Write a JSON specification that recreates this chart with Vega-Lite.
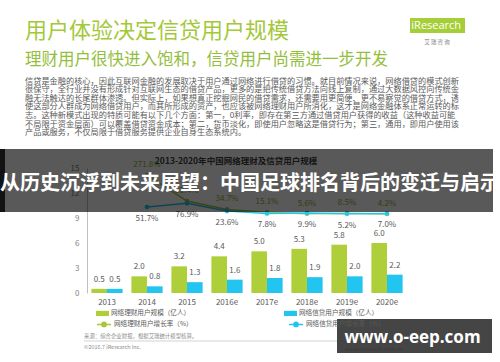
{
  "$schema": "https://vega.github.io/schema/vega-lite/v6.json",
  "width": 320,
  "height": 125,
  "autosize": {"type": "none"},
  "padding": {"left": 87, "top": 168, "right": 93, "bottom": 69},
  "background": "white",
  "config": {"font": "Noto Sans CJK SC", "view": {"stroke": null}},
  "datasets": {
    "bars": [
      {"year": "2013", "series": "网络理财用户规模（亿人）", "value": 0.5},
      {"year": "2014", "series": "网络理财用户规模（亿人）", "value": 2.0},
      {"year": "2015", "series": "网络理财用户规模（亿人）", "value": 3.2},
      {"year": "2016e", "series": "网络理财用户规模（亿人）", "value": 4.4},
      {"year": "2017e", "series": "网络理财用户规模（亿人）", "value": 5.0},
      {"year": "2018e", "series": "网络理财用户规模（亿人）", "value": 5.3},
      {"year": "2019e", "series": "网络理财用户规模（亿人）", "value": 5.8},
      {"year": "2020e", "series": "网络理财用户规模（亿人）", "value": 6.0},
      {"year": "2013", "series": "网络信贷用户规模（亿人）", "value": 0.5},
      {"year": "2014", "series": "网络信贷用户规模（亿人）", "value": 0.8},
      {"year": "2015", "series": "网络信贷用户规模（亿人）", "value": 1.3},
      {"year": "2016e", "series": "网络信贷用户规模（亿人）", "value": 1.6},
      {"year": "2017e", "series": "网络信贷用户规模（亿人）", "value": 1.8},
      {"year": "2018e", "series": "网络信贷用户规模（亿人）", "value": 1.9},
      {"year": "2019e", "series": "网络信贷用户规模（亿人）", "value": 2.0},
      {"year": "2020e", "series": "网络信贷用户规模（亿人）", "value": 2.2}
    ],
    "rates": [
      {"year": "2014", "series": "网络理财用户增长率（%）", "rate": 2.718},
      {"year": "2015", "series": "网络理财用户增长率（%）", "rate": 0.924},
      {"year": "2016e", "series": "网络理财用户增长率（%）", "rate": 0.347},
      {"year": "2017e", "series": "网络理财用户增长率（%）", "rate": 0.151},
      {"year": "2018e", "series": "网络理财用户增长率（%）", "rate": 0.056},
      {"year": "2019e", "series": "网络理财用户增长率（%）", "rate": 0.085},
      {"year": "2020e", "series": "网络理财用户增长率（%）", "rate": 0.042},
      {"year": "2014", "series": "网络信贷用户增长率（%）", "rate": 0.517},
      {"year": "2015", "series": "网络信贷用户增长率（%）", "rate": 0.769},
      {"year": "2016e", "series": "网络信贷用户增长率（%）", "rate": 0.236},
      {"year": "2017e", "series": "网络信贷用户增长率（%）", "rate": 0.078},
      {"year": "2018e", "series": "网络信贷用户增长率（%）", "rate": 0.099},
      {"year": "2019e", "series": "网络信贷用户增长率（%）", "rate": 0.052},
      {"year": "2020e", "series": "网络信贷用户增长率（%）", "rate": 0.070}
    ],
    "notes": [
      {
        "heading": "用户体验决定信贷用户规模",
        "sub": "理财用户很快进入饱和，信贷用户尚需进一步开发",
        "para": [
          "信贷是金融的核心，因此互联网金融的发展取决于用户通过网络进行借贷的习惯。就目前情况来说，网络借贷的模式创新",
          "很保守，全行业并没有形成针对互联网生态的借贷产品，更多的是把传统借贷方法向线上复制，通过大数据风控向传统金",
          "融无法触达的长尾群体渗透。但实际上，如果想真正挖掘网民的借贷需求，还需要用更简便、更不易察觉的借贷方式，诱",
          "使这部分人群成为网络借贷用户，而其所形成的资产，也应该被网络理财用户所消化，这才是网络金融体系正常运转的标",
          "志。这种新模式出现的特质可能有以下几个方面：第一，0利率，即存在第三方通过借贷用户获得的收益（这种收益可能",
          "不局限于资金层面）可以覆盖借贷资金成本；第二，货币淡化，即使用户忽略这是借贷行为；第三，通用，即用户使用该",
          "产品或服务，不仅局限于借贷服务提供企业自身生态系统内。"
        ],
        "chartTitle": "2013-2020年中国网络理财及信贷用户规模",
        "banner": "从历史沉浮到未来展望：中国足球排名背后的变迁与启示",
        "source": "来源：综合企业财报，根据艾瑞统计模型核算。",
        "copy": "©2016.7 iResearch Inc.",
        "site": "www.iresearch.com.cn",
        "logo": "iResearch",
        "logoCn": "艾   瑞   咨   询",
        "watermark": "www.o-eep.com"
      }
    ]
  },
  "layer": [
    {
      "layer": [
        {
          "data": {"name": "bars"},
          "encoding": {
            "x": {
              "field": "year", "type": "nominal", "sort": null,
              "scale": {"domain": ["2013", "2014", "2015", "2016e", "2017e", "2018e", "2019e", "2020e"], "paddingInner": 0.22, "paddingOuter": 0.11},
              "axis": {"title": null, "labelAngle": 0, "domain": false, "ticks": false, "labelPadding": 5, "labelFontSize": 8, "labelColor": "#595959"}
            },
            "xOffset": {
              "field": "series", "type": "nominal",
              "scale": {"domain": ["网络理财用户规模（亿人）", "网络信贷用户规模（亿人）"], "paddingInner": 0, "paddingOuter": 0}
            },
            "y": {
              "field": "value", "type": "quantitative",
              "scale": {"domain": [0, 15], "nice": false},
              "axis": {"title": null, "values": [0, 3, 6, 9, 12, 15], "domainColor": "#bfbfbf", "ticks": false, "grid": false, "labelPadding": 8, "labelFontSize": 8, "labelColor": "#7f7f7f"}
            }
          },
          "layer": [
            {
              "mark": {"type": "bar"},
              "encoding": {
                "fill": {
                  "field": "series", "type": "nominal",
                  "scale": {"domain": ["网络理财用户规模（亿人）", "网络信贷用户规模（亿人）"], "range": ["#AECF3A", "#22C4F0"]},
                  "legend": {"orient": "none", "legendX": 9, "legendY": 138.5, "direction": "horizontal", "title": null, "padding": 0, "symbolType": "M-1,-0.4H1V0.4H-1Z", "symbolSize": 169, "symbolStrokeWidth": 0, "labelFontSize": 6.6, "labelColor": "#595959", "columnPadding": 93, "labelOffset": 2}
                }
              }
            },
            {
              "mark": {"type": "text", "dy": -9, "fontSize": 8, "color": "#595959"},
              "encoding": {"text": {"field": "value", "type": "quantitative", "format": ".1f"}}
            }
          ]
        },
        {
          "data": {"name": "rates"},
          "encoding": {
            "x": {"field": "year", "type": "nominal", "sort": null},
            "y": {"field": "rate", "type": "quantitative", "scale": {"domain": [-5.4, 3.2], "nice": false, "zero": false}, "axis": null}
          },
          "layer": [
            {
              "mark": {"type": "line", "strokeWidth": 1.5, "point": {"filled": true, "size": 22}},
              "encoding": {
                "color": {
                  "field": "series", "type": "nominal",
                  "scale": {"domain": ["网络理财用户增长率（%）", "网络信贷用户增长率（%）"], "range": ["#A9C53B", "#22C4F0"]},
                  "legend": {"orient": "none", "legendX": 9, "legendY": 148, "direction": "horizontal", "title": null, "padding": 0, "symbolType": "M-1,0H1M-0.3,0A0.3,0.3 0 1,1 0.3,0A0.3,0.3 0 1,1 -0.3,0", "symbolSize": 196, "symbolStrokeWidth": 1.5, "labelFontSize": 6.6, "labelColor": "#595959", "columnPadding": 93, "labelOffset": 2}
                }
              }
            },
            {
              "transform": [{"filter": "datum.series === '网络理财用户增长率（%）'"}],
              "mark": {"type": "text", "dy": -10, "fontSize": 8, "color": "#8DB03A"},
              "encoding": {"text": {"field": "rate", "type": "quantitative", "format": ".1%"}}
            },
            {
              "transform": [{"filter": "datum.series === '网络信贷用户增长率（%）'"}],
              "mark": {"type": "text", "dy": 12, "fontSize": 8, "color": "#595959"},
              "encoding": {"text": {"field": "rate", "type": "quantitative", "format": ".1%"}}
            }
          ]
        }
      ],
      "resolve": {"scale": {"y": "independent"}}
    },
    {
      "data": {"name": "notes"},
      "encoding": {
        "x": {"datum": 0, "type": "quantitative", "scale": {"domain": [0, 8], "nice": false, "zero": false}, "axis": null},
        "y": {"datum": 0, "type": "quantitative", "scale": {"domain": [0, 15], "nice": false, "zero": false}, "axis": null}
      },
      "layer": [
        {
          "mark": {"type": "text", "align": "left", "baseline": "middle", "fontSize": 22, "color": "#A3C83A"},
          "encoding": {"x": {"datum": -1.55}, "y": {"datum": 31.44}, "text": {"field": "heading"}}
        },
        {
          "mark": {"type": "text", "align": "left", "baseline": "middle", "fontSize": 16.5, "color": "#94BE3C"},
          "encoding": {"x": {"datum": -1.55}, "y": {"datum": 27.96}, "text": {"field": "sub"}}
        },
        {
          "mark": {"type": "text", "align": "left", "baseline": "top", "fontSize": 8.2, "lineHeight": 8.6, "color": "#595959"},
          "encoding": {"x": {"datum": -1.55}, "y": {"datum": 25.85}, "text": {"field": "para"}}
        },
        {
          "mark": {"type": "rect", "color": "#A6CE39"},
          "encoding": {"x": {"datum": 8.075}, "x2": {"datum": 9.45}, "y": {"datum": 33.0}, "y2": {"datum": 31.2}}
        },
        {
          "mark": {"type": "text", "align": "center", "baseline": "middle", "fontSize": 11, "font": "Open Sans", "color": "white"},
          "encoding": {"x": {"datum": 8.73}, "y": {"datum": 32.08}, "text": {"field": "logo"}}
        },
        {
          "mark": {"type": "text", "align": "center", "baseline": "middle", "fontSize": 5.5, "color": "#7f7f7f"},
          "encoding": {"x": {"datum": 8.75}, "y": {"datum": 30.12}, "text": {"field": "logoCn"}}
        },
        {
          "mark": {"type": "text", "align": "center", "baseline": "middle", "fontSize": 8.5, "fontWeight": "bold", "color": "#404040"},
          "encoding": {"x": {"datum": 3.725}, "y": {"datum": 15.84}, "text": {"field": "chartTitle"}}
        },
        {
          "mark": {"type": "rect", "color": "#000000", "opacity": 0.65},
          "encoding": {"x": {"datum": -2.175}, "x2": {"datum": 10.15}, "y": {"datum": 17.28}, "y2": {"datum": 9.72}}
        },
        {
          "mark": {"type": "rect", "color": "#000000", "opacity": 0.8},
          "encoding": {"x": {"datum": -2.175}, "x2": {"datum": -2.05}, "y": {"datum": 17.28}, "y2": {"datum": 9.72}}
        },
        {
          "mark": {"type": "text", "align": "center", "baseline": "middle", "fontSize": 20, "fontWeight": "bold", "color": "white"},
          "encoding": {"x": {"datum": 4.075}, "y": {"datum": 13.08}, "text": {"field": "banner"}}
        },
        {
          "mark": {"type": "text", "align": "left", "baseline": "middle", "fontSize": 5.4, "color": "#8c8c8c"},
          "encoding": {"x": {"datum": -0.075}, "y": {"datum": -5.16}, "text": {"field": "source"}}
        },
        {
          "mark": {"type": "rule", "color": "#bfbfbf", "strokeWidth": 0.7},
          "encoding": {"x": {"datum": -0.075}, "x2": {"datum": 9.825}, "y": {"datum": -5.76}}
        },
        {
          "mark": {"type": "text", "align": "left", "baseline": "middle", "fontSize": 5.4, "color": "#8c8c8c"},
          "encoding": {"x": {"datum": -0.075}, "y": {"datum": -6.48}, "text": {"field": "copy"}}
        },
        {
          "mark": {"type": "text", "align": "left", "baseline": "middle", "fontSize": 5.4, "color": "#8c8c8c"},
          "encoding": {"x": {"datum": 6.45}, "y": {"datum": -6.72}, "text": {"field": "site"}}
        },
        {
          "mark": {"type": "rect", "color": "#2b2b2b", "opacity": 0.88, "zindex": 1},
          "encoding": {"x": {"datum": 6.25}, "x2": {"datum": 10.125}, "y": {"datum": -3.12}, "y2": {"datum": -7.2}}
        },
        {
          "mark": {"type": "text", "align": "center", "baseline": "middle", "fontSize": 17, "font": "Open Sans", "fontWeight": "bold", "color": "white", "zindex": 1},
          "encoding": {"x": {"datum": 8.1375}, "y": {"datum": -5.4}, "text": {"field": "watermark"}}
        }
      ]
    }
  ],
  "resolve": {"scale": {"x": "independent", "y": "independent"}}
}
